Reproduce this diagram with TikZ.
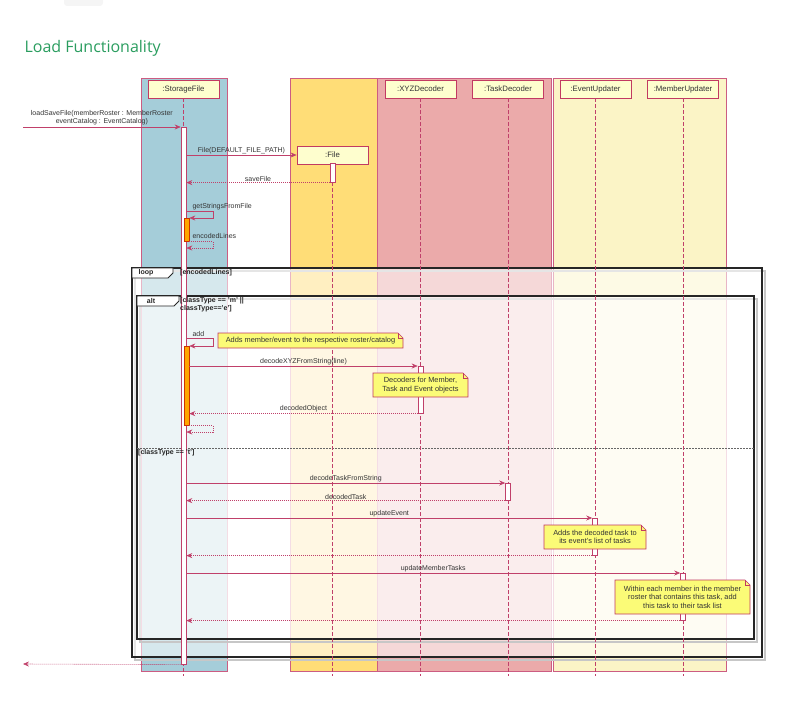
\documentclass[tikz,border=0pt]{standalone}
\usepackage{fontspec}
\setmainfont{Liberation Sans}
\newfontfamily\titlefont{Open Sans}
\usetikzlibrary{positioning,arrows.meta,calc}

\definecolor{titlegreen}{HTML}{2A9D5F}
\definecolor{sfbox}{HTML}{A5CDD9}
\definecolor{filebox}{HTML}{FFDD77}
\definecolor{decbox}{HTML}{EBAAAA}
\definecolor{updbox}{HTML}{FBF4C6}
\definecolor{grpline}{HTML}{CC5C82}
\definecolor{headfill}{HTML}{FEFECE}
\definecolor{headline}{HTML}{C23A62}
\definecolor{msgcol}{HTML}{C0406A}
\definecolor{notefill}{HTML}{FBFB77}
\definecolor{busyfill}{HTML}{FFA500}
\definecolor{busyline}{HTML}{CC3300}
\definecolor{lbltext}{HTML}{333333}

\pgfdeclarelayer{front}
\pgfsetlayers{main,front}

\newcommand\diagfont{\fontsize{7}{8.2}\selectfont}
\newcommand\headfont{\fontsize{7.8}{9}\selectfont}
\newcommand\notefont{\fontsize{7.4}{8.6}\selectfont}

\tikzset{
  head/.style={draw=headline, fill=headfill, line width=0.8pt, minimum width=71pt,
    minimum height=18pt, inner sep=0pt, font=\headfont, text=lbltext},
  grp/.style={draw=grpline, line width=0.8pt},
  life/.style={draw=msgcol, line width=0.6pt, dash pattern=on 3.5pt off 2.5pt},
  act/.style={draw=msgcol, fill=white, line width=0.6pt, minimum width=5pt,
    inner sep=0pt, anchor=north},
  busy/.style={act, draw=busyline, fill=busyfill},
  msg/.style={draw=msgcol, line width=0.6pt, -{Stealth[length=6pt,width=5pt,inset=2pt]}},
  ret/.style={msg, dash pattern=on 1pt off 1pt},
  lbl/.style={font=\diagfont, text=lbltext, inner sep=1pt},
  note/.style={inner sep=0pt, outer sep=0pt, font=\notefont, text=lbltext, align=center},
  notebody/.style={draw=headline, fill=notefill, line width=0.6pt},
  frame/.style={draw=black!85, line width=1.2pt, fill=white, fill opacity=0.55},
  shade/.style={draw=black!22, line width=1.2pt},
  tab/.style={draw=black!85, line width=0.8pt, fill=white},
  guard/.style={font=\diagfont\bfseries, text=black!85, inner sep=0pt, align=left}
}

\begin{document}
\begin{tikzpicture}[x=1pt, y=-1pt]
  \useasboundingbox (0,0) rectangle (786,701);
  \fill[black!4, rounded corners=3pt] (64,-6) rectangle (103,6);

  \node[anchor=west, font=\titlefont\fontsize{16}{19}\selectfont, text=titlegreen]
    (title) at (21,48) {Load Functionality};

  % participant boxes
  \draw[grp, fill=sfbox]   (141,78) rectangle (227,671);
  \draw[grp, fill=filebox] (290,78) rectangle (377,671);
  \draw[grp, fill=decbox]  (377,78) rectangle (551,671);
  \draw[grp, fill=updbox]  (553,78) rectangle (726,671);

  % loop / alt frames
  \draw[shade] (135,271) rectangle (765,660);
  \draw[frame] (132,268) rectangle (762,657);
  \draw[tab] (132,268) -- (173,268) -- (173,273) -- (168,278) -- (132,278) -- cycle;
  \draw[shade] (140,299) rectangle (757,642);
  \draw[frame] (137,296) rectangle (754,639);
  \draw[tab] (137,296) -- (179,296) -- (179,301) -- (174,306) -- (137,306) -- cycle;
  \draw[black!60, line width=0.5pt, dash pattern=on 1.5pt off 1.5pt] (137,448) -- (754,448);

  \begin{pgfonlayer}{front}
    \node[guard] (looplbl) at (146,273) {loop};
    \node[guard, anchor=west] (loopguard) at (180,273) {[encodedLines]};
    \node[guard] (altlbl) at (151,301) {alt};
    \node[guard, anchor=north west] (altguard) at (180,297.5) {[classType == 'm' ||\\ classType=='e']};
    \node[guard, anchor=west] (elseguard) at (138,453) {[classType == 't']};
  \end{pgfonlayer}

  % heads and lifelines
  \node[head] (sfhead)     at (183.5,89) {:StorageFile};
  \node[head] (filehead)   at (332.5,155) {:File};
  \node[head] (xyzhead)    at (420.5,89) {:XYZDecoder};
  \node[head] (taskhead)   at (508,89)   {:TaskDecoder};
  \node[head] (eventhead)  at (595.5,89) {:EventUpdater};
  \node[head] (memberhead) at (683,89)   {:MemberUpdater};
  \foreach \h in {sfhead,filehead,xyzhead,taskhead,eventhead,memberhead}
    \draw[life] (\h.south) -- (\h.south |- 0,676);

  % activations
  \node[act, minimum height=537pt] (sfact)     at (183.5,127) {};
  \node[act, minimum height=19pt]  (fileact)   at (332.5,163) {};
  \node[busy, minimum height=23pt] (readbusy)  at (186.5,218) {};
  \node[busy, minimum height=79pt] (addbusy)   at (186.5,346) {};
  \node[act, minimum height=47pt]  (xyzact)    at (420.5,366) {};
  \node[act, minimum height=17pt]  (taskact)   at (508,483)   {};
  \node[act, minimum height=37pt]  (eventact)  at (595,518)   {};
  \node[act, minimum height=47pt]  (memberact) at (683,573)   {};

  \coordinate (caller) at (23,127);
  \coordinate (callerback) at (23,664);

  % messages
  \draw[msg] (caller) -- (sfact.north west)
    node[lbl, midway, above=1pt, align=center] {loadSaveFile(memberRoster : MemberRoster\\eventCatalog : EventCatalog)};
  \draw[msg] (sfact.east |- filehead.west) -- (filehead.west)
    node[lbl, midway, above] {File(DEFAULT\_FILE\_PATH)};
  \draw[ret] (fileact.south west) -- (sfact.east |- fileact.south)
    node[lbl, midway, above] {saveFile};
  \draw[msg] (sfact.east |- 0,211) node[lbl, anchor=south west, xshift=5pt] {getStringsFromFile}
    -| (213,218) -- (readbusy.north east);
  \draw[ret] (readbusy.south east) node[lbl, anchor=south west, xshift=2pt, yshift=2pt] {encodedLines}
    -| (213,248) -- (sfact.east |- 0,248);

  \draw[msg] (sfact.east |- 0,338) node[lbl, anchor=south west, xshift=5pt] {add}
    -| (213,346) -- (addbusy.north east);
  \draw[msg] (addbusy.east |- xyzact.north) -- (xyzact.north west)
    node[lbl, midway, above] {decodeXYZFromString(line)};
  \draw[ret] (xyzact.south west) -- (addbusy.east |- xyzact.south)
    node[lbl, midway, above] {decodedObject};
  \draw[ret] (addbusy.south east) -| (213,432) -- (sfact.east |- 0,432);

  \draw[msg] (sfact.east |- taskact.north) -- (taskact.north west)
    node[lbl, midway, above] {decodeTaskFromString};
  \draw[ret] (taskact.south west) -- (sfact.east |- taskact.south)
    node[lbl, midway, above] {decodedTask};
  \draw[msg] (sfact.east |- eventact.north) -- (eventact.north west)
    node[lbl, midway, above] {updateEvent};
  \draw[ret] (eventact.south west) -- (sfact.east |- eventact.south);
  \draw[msg] (sfact.east |- memberact.north) -- (memberact.north west)
    node[lbl, midway, above] {updateMemberTasks};
  \draw[ret] (memberact.south west) -- (sfact.east |- memberact.south);

  \draw[ret] (sfact.south west) -- (callerback);

  % notes
  \begin{pgfonlayer}{front}
    \node[note, minimum width=185pt, minimum height=15pt] (addnote) at (310.5,340.5)
      {Adds member/event to the respective roster/catalog};
    \node[note, minimum width=95pt, minimum height=24pt] (decnote) at (420.5,385)
      {Decoders for Member,\\Task and Event objects};
    \node[note, minimum width=102pt, minimum height=24pt] (evnote) at (595,537)
      {Adds the decoded task to\\its event's list of tasks};
    \node[note, minimum width=135pt, minimum height=34pt] (memnote) at (682.5,597)
      {Within each member in the member\\roster that contains this task, add\\this task to their task list};
  \end{pgfonlayer}
  \foreach \n in {addnote,decnote,evnote,memnote}{
    \filldraw[notebody] ($(\n.north east)+(-5,0)$) -- (\n.north west) -- (\n.south west)
      -- (\n.south east) -- ($(\n.north east)+(0,5)$) -- cycle;
    \draw[notebody, fill=none] ($(\n.north east)+(-5,0)$) |- ($(\n.north east)+(0,5)$);
  }
\end{tikzpicture}
\end{document}
